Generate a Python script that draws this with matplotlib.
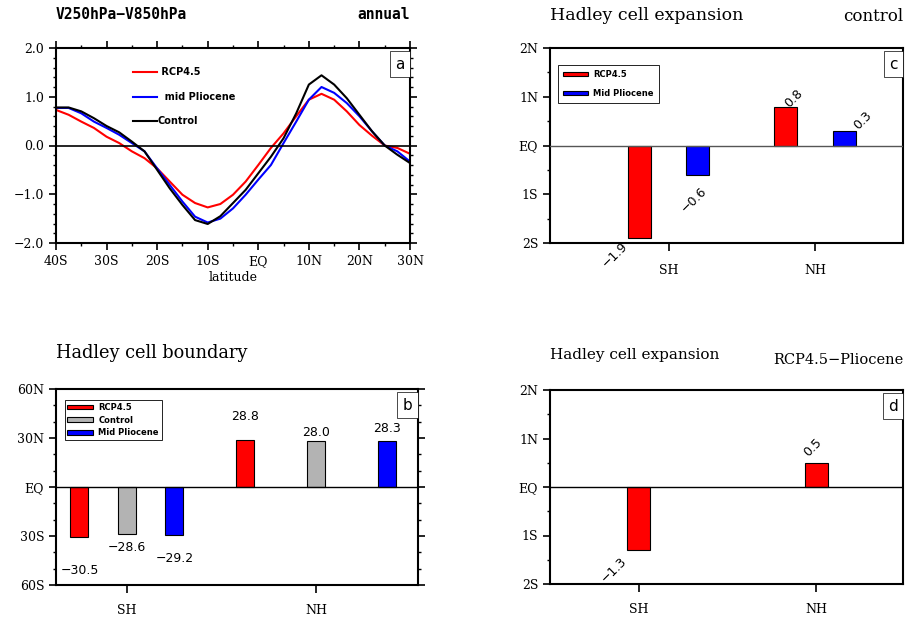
import numpy as np
import matplotlib
matplotlib.use('Agg')
import matplotlib.pyplot as plt
from matplotlib.patches import Patch

# ---- panel a : V250hPa - V850hPa ----
lat = [-40, -37.5, -35, -32.5, -30, -27.5, -25, -22.5, -20, -17.5, -15, -12.5, -10,
       -7.5, -5, -2.5, 0, 2.5, 5, 7.5, 10, 12.5, 15, 17.5, 20, 22.5, 25, 27.5, 30]
v_rcp = [0.73, 0.63, 0.49, 0.36, 0.18, 0.05, -0.12, -0.26, -0.47, -0.74, -1.01, -1.18, -1.27,
         -1.20, -1.01, -0.74, -0.40, -0.05, 0.25, 0.60, 0.94, 1.06, 0.94, 0.70, 0.42, 0.20,
         0.00, -0.05, -0.17]
v_plio = [0.77, 0.77, 0.66, 0.49, 0.36, 0.22, 0.05, -0.12, -0.47, -0.81, -1.15, -1.46, -1.58,
          -1.50, -1.29, -1.01, -0.70, -0.40, 0.05, 0.49, 0.94, 1.20, 1.08, 0.87, 0.60, 0.29,
          0.00, -0.12, -0.33]
v_ctrl = [0.78, 0.78, 0.70, 0.56, 0.40, 0.27, 0.08, -0.12, -0.50, -0.88, -1.22, -1.53, -1.61,
          -1.45, -1.18, -0.91, -0.57, -0.23, 0.15, 0.66, 1.25, 1.44, 1.25, 0.97, 0.63, 0.29,
          0.00, -0.19, -0.36]
lat_ticks = [-40, -30, -20, -10, 0, 10, 20, 30]
lat_labels = ['40S', '30S', '20S', '10S', 'EQ', '10N', '20N', '30N']

# ---- panel b : Hadley cell boundary ----
hem = ['SH', 'NH']
bnd_names = ['RCP4.5', 'Control', 'Mid Pliocene']
bnd_sh = [-30.5, -28.6, -29.2]
bnd_nh = [28.8, 28.0, 28.3]
bnd_colors = ['red', '#b3b3b3', 'blue']

# ---- panel c : expansion relative to control ----
exp_names = ['RCP4.5', 'Mid Pliocene']
exp_sh = [-1.9, -0.6]
exp_nh = [0.8, 0.3]
exp_colors = ['red', 'blue']

# ---- panel d : RCP4.5 - Pliocene ----
diff_vals = [-1.3, 0.5]

W, H = 905, 617
fig = plt.figure(figsize=(W / 100, H / 100), dpi=100)

def box(l, t, r, b):
    return [l / W, 1 - b / H, (r - l) / W, (b - t) / H]

serif = 'DejaVu Serif'

def fmt(v):
    # NCL style minus sign
    return ('\u2212%.1f' % -v) if v < 0 else ('%.1f' % v)

def style(ax, lw=1.5):
    for s in ax.spines.values():
        s.set_linewidth(lw)
    ax.tick_params(which='major', direction='out', length=5, width=1.2)
    ax.tick_params(which='minor', direction='out', length=2.5, width=1.0)
    for lab in ax.get_xticklabels() + ax.get_yticklabels():
        lab.set_fontfamily(serif)
        lab.set_fontsize(9)

def corner(ax, txt):
    ax.text(0.985, 0.955, txt, transform=ax.transAxes, ha='right', va='top',
            fontsize=11, family='DejaVu Sans', zorder=10, clip_on=False,
            bbox=dict(boxstyle='square,pad=0.35', fc='white', ec='black', lw=0.5))

# ================= panel a =================
ax = fig.add_axes(box(56, 48, 410, 243))
ax.plot(lat, v_rcp, color='red', lw=1.5)
ax.plot(lat, v_plio, color='blue', lw=1.5)
ax.plot(lat, v_ctrl, color='black', lw=1.5)
ax.axhline(0, color='black', lw=1.2)
ax.set_xlim(-40, 30)
ax.set_ylim(-2, 2)
ax.set_xticks(lat_ticks)
ax.set_xticklabels(lat_labels)
ax.set_xticks(np.arange(-35, 30, 10), minor=True)
ax.set_yticks([-2, -1, 0, 1, 2])
ax.set_yticklabels([fmt(v) for v in [-2, -1, 0, 1, 2]])
ax.set_yticks(np.arange(-2, 2.01, 0.2), minor=True)
ax.tick_params(which='both', top=True, right=True)
style(ax)
ax.set_xlabel('latitude', fontsize=9, family=serif, labelpad=2)
ax.text(0.0, 1.17, 'V250hPa\u2212V850hPa', transform=ax.transAxes, ha='left', va='center',
        fontsize=10.5, family='DejaVu Sans Mono', weight='bold')
ax.text(1.0, 1.17, 'annual', transform=ax.transAxes, ha='right', va='center',
        fontsize=10.5, family='DejaVu Sans Mono', weight='bold')
corner(ax, 'a')
leg_y = [72, 97, 121]
leg_txt = [' RCP4.5', '  mid Pliocene', 'Control']
for name, col, yy in zip(leg_txt, ['red', 'blue', 'black'], leg_y):
    fy = 1 - (yy - 48) / 195
    ax.plot([0.218, 0.285], [fy, fy], color=col, lw=1.5, transform=ax.transAxes)
    ax.text(0.287, fy, name, transform=ax.transAxes, va='center', ha='left',
            fontsize=7, family='DejaVu Sans', weight='bold')

# ================= panel b =================
ax = fig.add_axes(box(56, 389, 418, 585))
pos = np.arange(len(hem))
sh_off = 0.251
nh_off = 0.376
bw = 0.095
sh_lab_dy = [-24, -10, -17]
nh_lab_dy = [17, 6, 9]
for k in range(3):
    xs = pos[0] + (k - 1) * sh_off
    xn = pos[1] + (k - 1) * nh_off
    ax.bar(xs, bnd_sh[k], bw, color=bnd_colors[k], edgecolor='black', lw=0.8, zorder=3)
    ax.bar(xn, bnd_nh[k], bw, color=bnd_colors[k], edgecolor='black', lw=0.8, zorder=3)
    ax.annotate(fmt(bnd_sh[k]), (xs, bnd_sh[k]), xytext=(0, sh_lab_dy[k]),
                textcoords='offset points', ha='center', va='center', fontsize=9,
                family='DejaVu Sans')
    ax.annotate(fmt(bnd_nh[k]), (xn, bnd_nh[k]), xytext=(0, nh_lab_dy[k]),
                textcoords='offset points', ha='center', va='center', fontsize=9,
                family='DejaVu Sans')
ax.axhline(0, color='black', lw=1.0, zorder=4)
ax.set_xlim(-0.375, 1.54)
ax.set_ylim(-60, 60)
ax.set_xticks(pos)
ax.set_xticklabels(hem)
ax.set_yticks([-60, -30, 0, 30, 60])
ax.set_yticklabels(['60S', '30S', 'EQ', '30N', '60N'])
ax.set_yticks(np.arange(-60, 61, 10), minor=True)
ax.tick_params(which='both', right=True)
style(ax)
ax.tick_params(axis='x', which='major', length=6, pad=8)
ax.set_title('Hadley cell boundary', loc='left', fontsize=12.8, family=serif, pad=22)
corner(ax, 'b')
handles = [Patch(facecolor=c, edgecolor='black', lw=0.8) for c in bnd_colors]
lg = ax.legend(handles, bnd_names, loc='upper left', bbox_to_anchor=(0.012, 0.965),
               prop=dict(family='DejaVu Sans', weight='bold', size=6), handlelength=3.1, handleheight=0.5,
               labelspacing=0.45, fancybox=False, edgecolor='black', borderpad=0.35, handletextpad=0.6,
               framealpha=1)
lg.get_frame().set_linewidth(0.6)

# ================= panel c =================
ax = fig.add_axes(box(550, 48, 903, 243))
off = 0.20
bw = 0.157
sh_dxy = [(-17.6, -12.2), (-2.5, -18)]
nh_dxy = [(5.8, 6.1), (13.3, 7.2)]
for k in range(2):
    x0 = pos[0] + (k - 0.5) * 2 * off
    x1 = pos[1] + (k - 0.5) * 2 * off
    ax.bar(x0, exp_sh[k], bw, color=exp_colors[k], edgecolor='black', lw=0.8, zorder=3)
    ax.bar(x1, exp_nh[k], bw, color=exp_colors[k], edgecolor='black', lw=0.8, zorder=3)
    ax.annotate(fmt(exp_sh[k]), (x0, exp_sh[k]), xytext=sh_dxy[k], textcoords='offset points',
                ha='center', va='center', rotation=45, fontsize=9, family='DejaVu Sans',
                annotation_clip=False)
    ax.annotate(fmt(exp_nh[k]), (x1, exp_nh[k]), xytext=nh_dxy[k], textcoords='offset points',
                ha='center', va='center', rotation=45, fontsize=9, family='DejaVu Sans')
ax.axhline(0, color='#555555', lw=1.0, zorder=4)
ax.set_xlim(-0.81, 1.60)
ax.set_ylim(-2, 2)
ax.set_xticks(pos)
ax.set_xticklabels(hem)
ax.set_yticks([-2, -1, 0, 1, 2])
ax.set_yticklabels(['2S', '1S', 'EQ', '1N', '2N'])
ax.set_yticks(np.arange(-2, 2.01, 0.5), minor=True)
style(ax)
ax.tick_params(axis='x', which='major', length=6, pad=9)
ax.set_title('Hadley cell expansion', loc='left', fontsize=12.5, family=serif, pad=20)
ax.text(1.0, 1.12, 'control', transform=ax.transAxes, ha='right', va='bottom', fontsize=12, family=serif)
corner(ax, 'c')
handles = [Patch(facecolor=c, edgecolor='black', lw=0.8) for c in exp_colors]
lg = ax.legend(handles, exp_names, loc='upper left', bbox_to_anchor=(0.012, 0.935),
               prop=dict(family='DejaVu Sans', weight='bold', size=6), handlelength=3.0, handleheight=0.5,
               labelspacing=1.2, fancybox=False, edgecolor='black', borderpad=0.6, handletextpad=0.6,
               framealpha=1)
lg.get_frame().set_linewidth(0.6)

# ================= panel d =================
ax = fig.add_axes(box(550, 390, 903, 584))
bw = 0.13
d_dxy = [(-17.6, -14.4), (-2.5, 10.8)]
for k in range(2):
    ax.bar(pos[k], diff_vals[k], bw, color='red', edgecolor='black', lw=0.8, zorder=3)
    ax.annotate(fmt(diff_vals[k]), (pos[k], diff_vals[k]), xytext=d_dxy[k], textcoords='offset points',
                ha='center', va='center', rotation=45, fontsize=9, family='DejaVu Sans',
                annotation_clip=False)
ax.axhline(0, color='black', lw=1.0, zorder=4)
ax.set_xlim(-0.5, 1.49)
ax.set_ylim(-2, 2)
ax.set_xticks(pos)
ax.set_xticklabels(hem)
ax.set_yticks([-2, -1, 0, 1, 2])
ax.set_yticklabels(['2S', '1S', 'EQ', '1N', '2N'])
ax.set_yticks(np.arange(-2, 2.01, 0.5), minor=True)
style(ax)
ax.tick_params(axis='x', which='major', length=6, pad=8)
ax.set_title('Hadley cell expansion', loc='left', fontsize=11, family=serif, pad=22)
ax.text(1.0, 1.12, 'RCP4.5\u2212Pliocene', transform=ax.transAxes, ha='right', va='bottom',
        fontsize=10.5, family=serif)
corner(ax, 'd')

fig.savefig('out.png', dpi=100)
